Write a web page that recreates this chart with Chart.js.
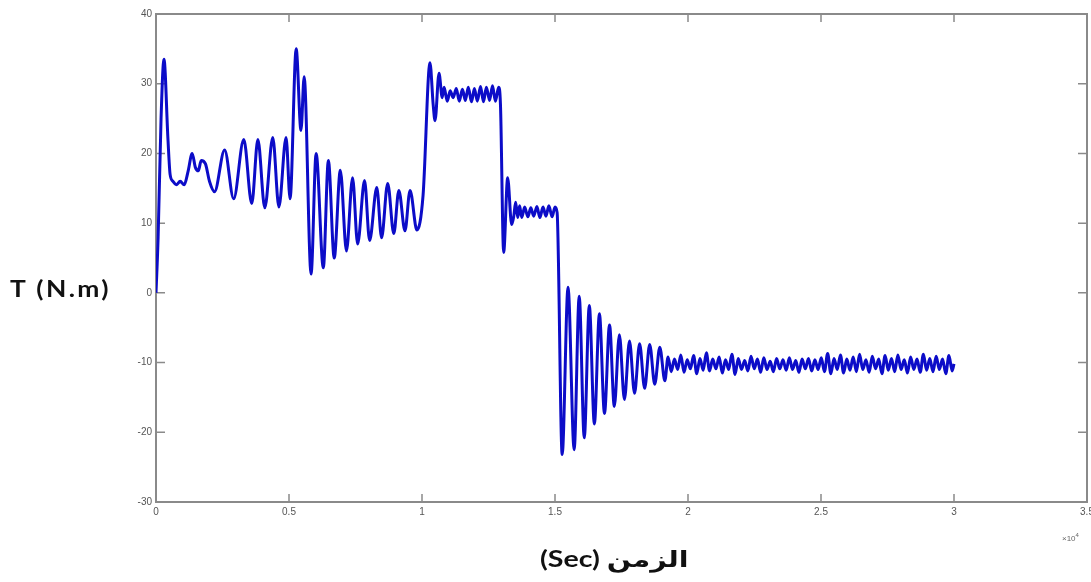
<!DOCTYPE html>
<html>
<head>
<meta charset="utf-8">
<script src="https://cdn.jsdelivr.net/npm/chart.js@4.4.1/dist/chart.umd.min.js"></script>
<style>
  body { margin: 0; background: #fff; }
  #wrap { position: relative; width: 1091px; height: 582px; overflow: hidden; }
  #box { position: absolute; left: 0; top: 0; width: 1091px; height: 582px; }
  .lbl { position: absolute; font-family: "Lato", "DejaVu Sans", sans-serif; font-weight: bold; color: #111; white-space: nowrap; line-height: 1; transform-origin: left center; }
  #ylab { left: 10px; top: 278px; font-size: 22px; letter-spacing: 2px; transform: scaleX(1.2); }
  #xlab { left: 540px; top: 548px; font-size: 22px; direction: ltr; transform: scaleX(1.3); }
  #expo { position: absolute; left: 1062px; top: 532px; font: 8px "Liberation Sans", sans-serif; color: #666; }
  #expo sup { font-size: 6px; }
</style>
</head>
<body>
<div id="wrap">
  <div id="box"><canvas id="myChart"></canvas></div>
  <div class="lbl" id="ylab">T (N.m)</div>
  <div class="lbl" id="xlab">(Sec) الزمن</div>
  <div id="expo">×10<sup>4</sup></div>
</div>
<script>
// time axis (x10^4) and torque (N.m)
const timeX = [
  0.000, 0.008, 0.019, 0.030, 0.045, 0.053, 0.064, 0.076, 0.091, 0.106,
  0.121, 0.136, 0.148, 0.159, 0.170, 0.186, 0.201, 0.220, 0.258, 0.292,
  0.330, 0.360, 0.383, 0.409, 0.439, 0.462, 0.489, 0.504, 0.527,
  0.545, 0.557, 0.583, 0.602, 0.629, 0.648, 0.670, 0.693, 0.716, 0.739,
  0.758, 0.784, 0.803, 0.830, 0.848, 0.871, 0.894, 0.913, 0.936, 0.955,
  0.981, 1.004, 1.030,
  1.042, 1.049, 1.064, 1.076, 1.083, 1.095, 1.106, 1.117, 1.129, 1.140,
  1.152, 1.163, 1.174, 1.186, 1.197, 1.208, 1.220, 1.231, 1.242, 1.254,
  1.265, 1.276, 1.288, 1.295, 1.307, 1.322, 1.337, 1.345, 1.352, 1.360,
  1.367, 1.375, 1.386, 1.398, 1.409, 1.420, 1.432, 1.443, 1.455, 1.466,
  1.477, 1.489, 1.500, 1.508,
  1.527, 1.549, 1.572, 1.591, 1.610, 1.629, 1.648, 1.667, 1.686, 1.705,
  1.723, 1.742, 1.761, 1.780, 1.799, 1.818, 1.837, 1.856, 1.875, 1.894,
  1.913,
  1.925, 1.937, 1.949, 1.961, 1.973, 1.985, 1.997, 2.009, 2.021, 2.033,
  2.045, 2.057, 2.069, 2.081, 2.093, 2.105, 2.117, 2.129, 2.141, 2.153,
  2.165, 2.177, 2.189, 2.201, 2.213, 2.225, 2.237, 2.249, 2.261, 2.273,
  2.285, 2.297, 2.309, 2.321, 2.333, 2.345, 2.357, 2.369, 2.381, 2.393,
  2.405, 2.417, 2.429, 2.441, 2.453, 2.465, 2.477, 2.489, 2.501, 2.513,
  2.525, 2.537, 2.549, 2.561, 2.573, 2.585, 2.597, 2.609, 2.621, 2.633,
  2.645, 2.657, 2.669, 2.681, 2.693, 2.705, 2.717, 2.729, 2.741, 2.753,
  2.765, 2.777, 2.789, 2.801, 2.813, 2.825, 2.837, 2.849, 2.861, 2.873,
  2.885, 2.897, 2.909, 2.921, 2.933, 2.945, 2.957, 2.969, 2.981, 2.993,
  3.000
];
const torqueT = [
  0, 8, 25, 33.5, 22, 17, 16, 15.5, 16, 15.5,
  17.5, 20, 18, 17.5, 19, 18.5, 16, 14.5, 20.5, 13.5,
  22, 12.8, 22, 12.2, 22.3, 12.3, 22.3, 13.5, 35,
  23.3, 31, 2.7, 20, 3.6, 19, 5, 17.6, 6, 16.5,
  7, 16.1, 7.5, 15.1, 7.9, 15.7, 8.5, 14.7, 8.9, 14.7,
  9, 14, 33,
  27, 24.7, 31.5, 28, 29.5, 27.5, 29, 28, 29.3, 27.5,
  29.2, 27.6, 29.5, 27.4, 29.3, 27.5, 29.6, 27.4, 29.5, 27.6,
  29.7, 27.5, 29.5, 27, 5.8, 16.5, 9.8, 11, 13, 10.8,
  12.5, 10.8, 12.3, 10.9, 12.2, 11.0, 12.4, 10.8, 12.3, 11.0,
  12.5, 10.9, 12.3, 11.5,
  -23.2, 0.8, -22.5, -0.5, -20.8, -1.8, -18.8, -3, -17.3, -4.6,
  -16.3, -6, -15.3, -6.9, -14.4, -7.3, -13.7, -7.4, -13.1, -7.8,
  -12.6,
  -9.2, -11.3, -9.5, -11.0, -8.9, -11.4, -9.6, -10.9, -9.0, -11.6,
  -9.4, -11.1, -8.6, -11.2, -9.5, -10.9, -9.2, -11.5, -9.6, -11.0,
  -8.8, -11.7, -9.4, -11.0, -9.7, -11.2, -9.1, -10.9, -9.5, -11.4,
  -9.3, -11.0, -9.8, -11.3, -9.4, -10.9, -9.6, -11.1, -9.3, -11.0,
  -9.7, -11.4, -9.5, -10.9, -9.4, -11.2, -9.6, -11.0, -9.3, -11.3,
  -8.7, -11.6, -9.4, -11.0, -8.9, -11.5, -9.5, -11.1, -9.2, -11.3,
  -8.8, -11.0, -9.6, -11.4, -9.1, -10.9, -9.5, -11.6, -9.0, -11.1,
  -9.4, -11.3, -8.9, -11.0, -9.6, -11.5, -9.2, -11.0, -9.5, -11.4,
  -8.8, -11.1, -9.4, -11.3, -9.1, -11.0, -9.5, -11.6, -9.0, -11.2,
  -10.2
];
const xTicks = [0, 0.5, 1, 1.5, 2, 2.5, 3, 3.5];
const yTicks = [-30, -20, -10, 0, 10, 20, 30, 40];

const points = timeX.map((t, i) => ({ x: t, y: torqueT[i] }));

// matlab style box with inward ticks
const frame = {
  id: "frame",
  beforeDatasetsDraw(chart) {
    const { ctx, chartArea: a, scales } = chart;
    ctx.save();
    ctx.strokeStyle = "#8a8a8a";
    ctx.lineWidth = 2;
    ctx.strokeRect(a.left, a.top, a.right - a.left, a.bottom - a.top);
    ctx.lineWidth = 1.5;
    ctx.beginPath();
    xTicks.forEach((v) => {
      const px = scales.x.getPixelForValue(v);
      ctx.moveTo(px, a.bottom); ctx.lineTo(px, a.bottom - 8);
      ctx.moveTo(px, a.top); ctx.lineTo(px, a.top + 8);
    });
    yTicks.forEach((v) => {
      const py = scales.y.getPixelForValue(v);
      ctx.moveTo(a.left, py); ctx.lineTo(a.left + 9, py);
      ctx.moveTo(a.right, py); ctx.lineTo(a.right - 9, py);
    });
    ctx.stroke();
    ctx.restore();
  },
};

const config = {
  type: "line",
  data: {
    datasets: [
      {
        data: points,
        borderColor: "#0c0cc8",
        borderWidth: 3,
        pointRadius: 0,
        cubicInterpolationMode: "monotone",
        fill: false,
      },
    ],
  },
  options: {
    responsive: true,
    maintainAspectRatio: false,
    animation: false,
    devicePixelRatio: 1,
    layout: { padding: { top: 14, right: 4, left: 0, bottom: 0 } },
    plugins: { legend: { display: false }, tooltip: { enabled: false } },
    scales: {
      x: {
        type: "linear",
        min: 0,
        max: 3.5,
        grid: { display: false, drawTicks: false },
        border: { display: false },
        ticks: {
          stepSize: 0.5,
          padding: 4,
          color: "#555",
          font: { family: "Liberation Sans", size: 10 },
          maxRotation: 0,
          callback: (v) => String(v),
        },
        afterFit: (s) => {
          s.height = 80;
          s.paddingLeft = 0;
          s.paddingRight = 0;
        },
      },
      y: {
        min: -30,
        max: 40,
        grid: { display: false, drawTicks: false },
        border: { display: false },
        ticks: {
          stepSize: 10,
          padding: 4,
          color: "#555",
          font: { family: "Liberation Sans", size: 10 },
        },
        afterFit: (s) => {
          s.width = 156;
        },
      },
    },
  },
  plugins: [frame],
};

const myChart = new Chart(document.getElementById("myChart"), config);
</script>
</body>
</html>
